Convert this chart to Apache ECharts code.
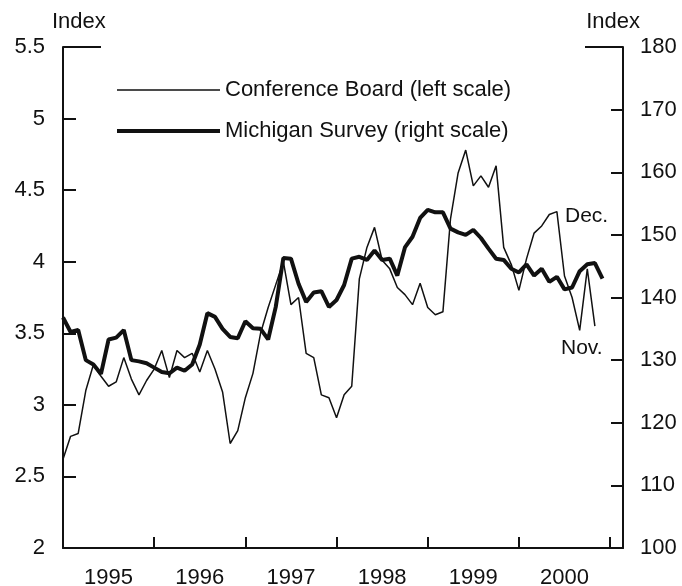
<!DOCTYPE html>
<html>
<head>
<meta charset="utf-8">
<script src="https://cdn.jsdelivr.net/npm/echarts@6/dist/echarts.min.js"></script>
<style>
  html, body { margin: 0; padding: 0; background: #fff; }
  #chart_container { width: 682px; height: 586px; }
</style>
</head>
<body>
<div id="chart_container"></div>
<script>
// monthly, Jan 1995 onwards
var years = ["1995", "1996", "1997", "1998", "1999", "2000"];
var conferenceBoard = [
  2.62, 2.78, 2.80, 3.10, 3.28, 3.20, 3.13, 3.16, 3.33, 3.18, 3.07, 3.17,
  3.25, 3.38, 3.19, 3.38, 3.33, 3.36, 3.23, 3.38, 3.25, 3.09, 2.73, 2.82,
  3.05, 3.22, 3.50, 3.68, 3.84, 4.00, 3.70, 3.75, 3.36, 3.33, 3.07, 3.05,
  2.91, 3.07, 3.13, 3.88, 4.10, 4.24, 4.01, 3.95, 3.82, 3.77, 3.70, 3.85,
  3.68, 3.63, 3.65, 4.30, 4.62, 4.78, 4.53, 4.60, 4.52, 4.67, 4.10, 3.98,
  3.80, 4.02, 4.20, 4.25, 4.33, 4.35, 3.90, 3.75, 3.52, 3.95, 3.55
];
var michigan = [
  136.8, 134.5, 134.8, 130.0, 129.3, 127.8, 133.3, 133.6, 134.8, 130.0, 129.8, 129.5,
  128.8, 128.1, 127.9, 128.8, 128.3, 129.3, 132.5, 137.5, 136.9, 135.0, 133.7, 133.5,
  136.2, 135.1, 135.0, 133.3, 138.5, 146.3, 146.2, 142.2, 139.3, 140.8, 141.0, 138.5,
  139.6, 142.0, 146.2, 146.5, 146.0, 147.5, 146.0, 146.2, 143.5, 148.0, 149.7, 152.7,
  154.0, 153.6, 153.6, 151.0, 150.4, 150.0, 150.8, 149.5, 147.8, 146.2, 146.0, 144.6,
  144.0, 145.3, 143.5, 144.6, 142.5, 143.3, 141.3, 141.6, 144.2, 145.3, 145.5, 143.0
];

var FONT = "Liberation Sans";
var INK = "#111";

var dom = document.getElementById("chart_container");
var myChart = echarts.init(dom, null, { renderer: "canvas" });

function pairs(arr) {
  return arr.map(function (v, i) { return [i, v]; });
}

// legend samples: a bar across the icon box, thin for one, thick for the other
var THIN_ICON = "path://M0,0L0,14M0,6.2H103V7.8H0Z";
var THICK_ICON = "path://M0,0L0,14M0,5H103V9H0Z";

var option = {
  animation: false,
  backgroundColor: "#fff",
  grid: { left: 63, right: 59, top: 47, bottom: 38, containLabel: false, outerBoundsMode: "none" },
  legend: {
    orient: "vertical",
    left: 112,
    top: 74,
    itemWidth: 103,
    itemHeight: 14,
    itemGap: 19,
    itemStyle: { color: INK, borderWidth: 0 },
    textStyle: { fontFamily: FONT, fontSize: 22, color: INK },
    data: [
      { name: "Conference Board (left scale)", icon: THIN_ICON },
      { name: "Michigan Survey (right scale)", icon: THICK_ICON }
    ]
  },
  xAxis: [
    {
      type: "value",
      min: 0,
      max: 73.7,
      interval: 12,
      axisLine: { onZero: false, lineStyle: { color: INK, width: 2 } },
      axisTick: { inside: true, length: 11, lineStyle: { color: INK, width: 2 } },
      axisLabel: { show: false },
      splitLine: { show: false }
    },
    {
      type: "value",
      position: "bottom",
      min: 0,
      max: 73.7,
      interval: 6,
      axisLine: { show: false, onZero: false },
      axisTick: { show: false },
      splitLine: { show: false },
      axisLabel: {
        margin: 19,
        fontFamily: FONT,
        fontSize: 22,
        color: INK,
        showMaxLabel: false,
        formatter: function (v) {
          return v % 12 === 6 ? years[(v - 6) / 12] : "";
        }
      }
    }
  ],
  yAxis: [
    {
      type: "value",
      position: "left",
      min: 2,
      max: 5.5,
      interval: 0.5,
      name: "Index",
      nameGap: 14,
      nameTextStyle: { fontFamily: FONT, fontSize: 22, color: INK, align: "left", padding: [0, 0, 0, -11] },
      axisLine: { show: true, onZero: false, lineStyle: { color: INK, width: 2 } },
      axisTick: { show: true, inside: true, length: 13, lineStyle: { color: INK, width: 2 } },
      axisLabel: { margin: 18, fontFamily: FONT, fontSize: 22, color: INK },
      splitLine: { show: false }
    },
    {
      type: "value",
      position: "right",
      min: 100,
      max: 180,
      interval: 10,
      name: "Index",
      nameGap: 14,
      nameTextStyle: { fontFamily: FONT, fontSize: 22, color: INK, align: "right", padding: [0, -17, 0, 0] },
      axisLine: { show: true, onZero: false, lineStyle: { color: INK, width: 2 } },
      axisTick: { show: true, inside: true, length: 12, lineStyle: { color: INK, width: 2 } },
      axisLabel: { margin: 17, fontFamily: FONT, fontSize: 22, color: INK },
      splitLine: { show: false }
    }
  ],
  graphic: [
    // top corner pieces of the frame
    { type: "line", shape: { x1: 63, y1: 47, x2: 101, y2: 47 }, style: { stroke: INK, lineWidth: 2 } },
    { type: "line", shape: { x1: 585, y1: 47, x2: 623, y2: 47 }, style: { stroke: INK, lineWidth: 2 } },
    { type: "text", left: 565, top: 206, style: { text: "Dec.", font: "21px " + FONT, fill: INK } },
    { type: "text", left: 561, top: 338, style: { text: "Nov.", font: "21px " + FONT, fill: INK } }
  ],
  series: [
    {
      name: "Conference Board (left scale)",
      type: "line",
      xAxisIndex: 0,
      yAxisIndex: 0,
      symbol: "none",
      lineStyle: { color: INK, width: 1.5 },
      itemStyle: { color: INK },
      data: pairs(conferenceBoard)
    },
    {
      name: "Michigan Survey (right scale)",
      type: "line",
      xAxisIndex: 0,
      yAxisIndex: 1,
      symbol: "none",
      lineStyle: { color: INK, width: 4 },
      itemStyle: { color: INK },
      data: pairs(michigan)
    }
  ]
};

myChart.setOption(option);
window.addEventListener("resize", myChart.resize);
</script>
</body>
</html>
